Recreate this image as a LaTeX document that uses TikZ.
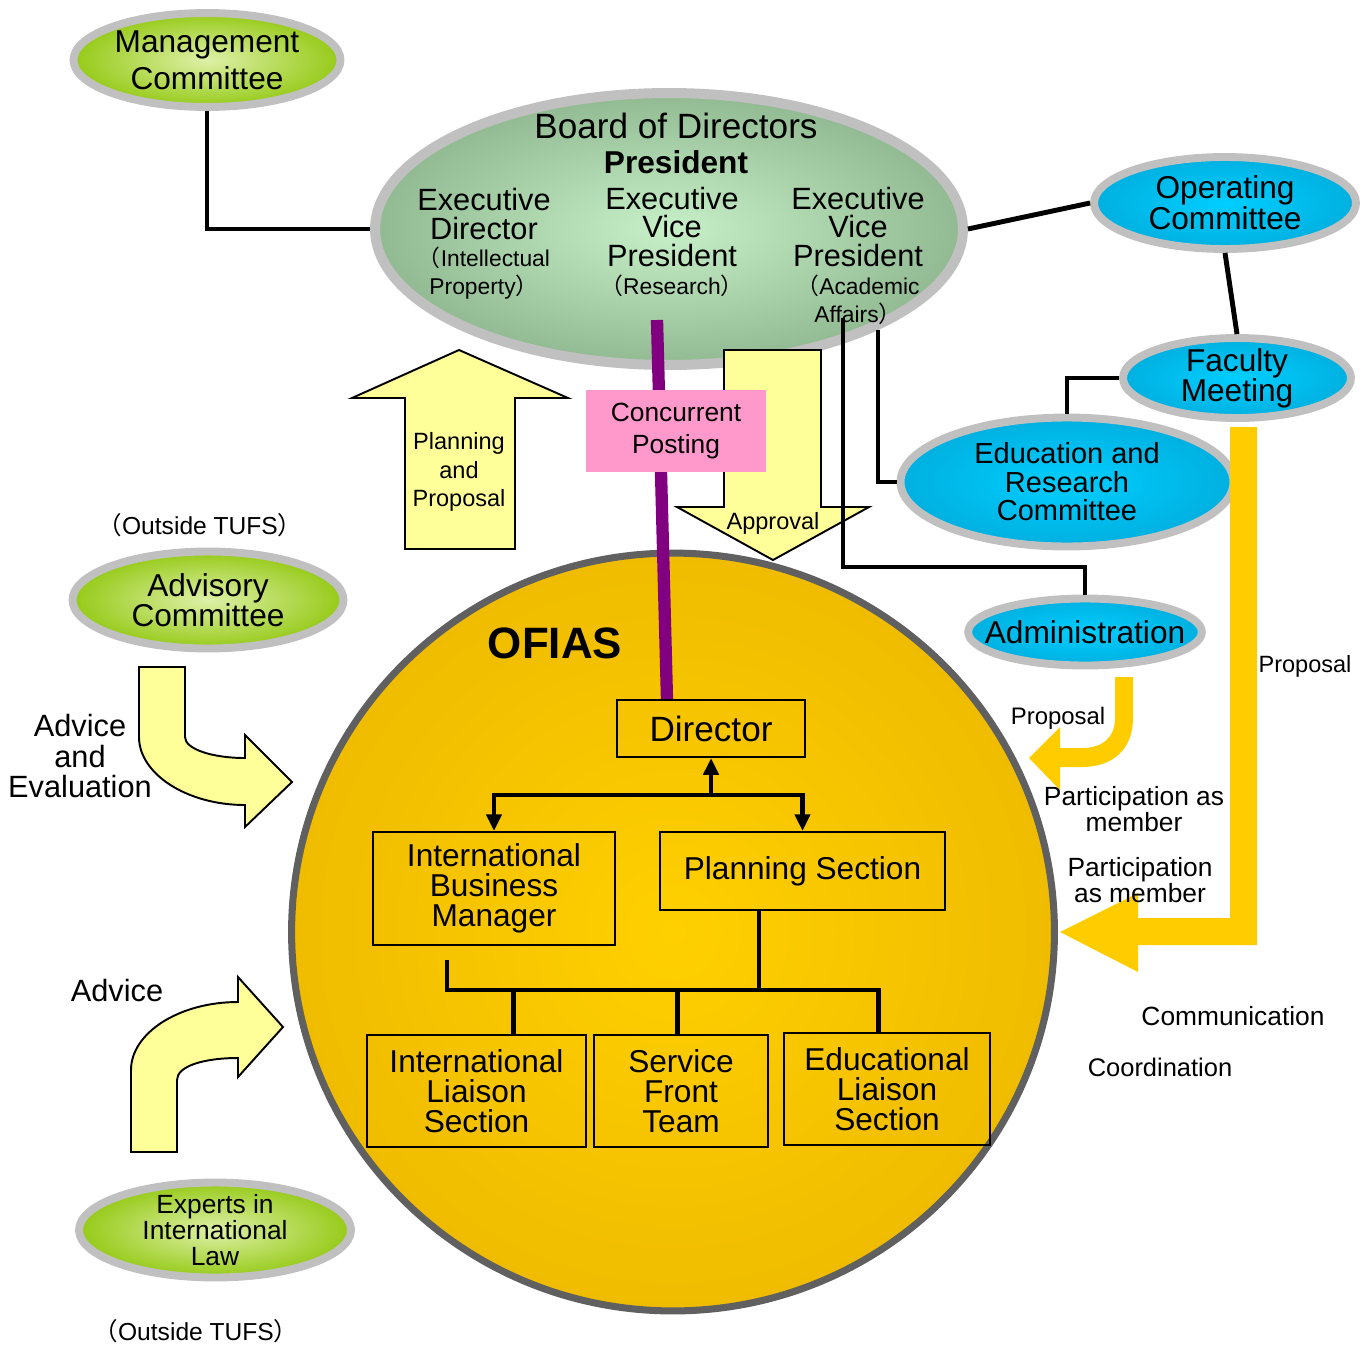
\documentclass[tikz,border=0pt]{standalone}
\usepackage{fontspec}
\setmainfont{Liberation Sans}
\newfontfamily\cjk{Noto Sans CJK JP}
\usetikzlibrary{positioning, arrows.meta, shapes.geometric}
\newcommand{\fsz}[2]{\fontsize{#1}{#2}\selectfont}
\newcommand{\lpar}{{\cjk （}}
\newcommand{\rpar}{{\cjk ）}}
\definecolor{ovalgray}{RGB}{192,192,192}
\definecolor{limein}{RGB}{222,240,168}
\definecolor{limeout}{RGB}{150,202,24}
\definecolor{sagein}{RGB}{200,240,200}
\definecolor{sageout}{RGB}{146,186,146}
\definecolor{skyin}{RGB}{0,206,255}
\definecolor{skyout}{RGB}{0,176,224}
\definecolor{goldin}{RGB}{255,208,0}
\definecolor{goldout}{RGB}{240,188,0}
\definecolor{paleyellow}{RGB}{255,255,153}
\definecolor{amber}{RGB}{255,204,0}
\definecolor{postingpink}{RGB}{255,153,204}
\definecolor{postingpurple}{RGB}{128,0,128}
\definecolor{rimgray}{RGB}{96,96,96}
\tikzset{
  oval/.style={ellipse, draw=ovalgray, line width=4.5pt, inner sep=-10pt, align=center},
  lime oval/.style={oval, inner color=limein, outer color=limeout},
  sky oval/.style={oval, inner color=skyin, outer color=skyout},
  unit box/.style={rectangle, draw, line width=1.2pt, inner sep=0pt, align=center, font=\fsz{18}{17}},
  wire/.style={line width=2.8pt},
  headed/.style={-{Triangle[length=9.5pt,width=8.5pt]}},
  block arrow/.style={fill=paleyellow, draw, line width=1.1pt},
  flow arrow/.style={fill=amber},
}

\begin{document}
\begin{tikzpicture}[x=0.02cm, y=-0.02cm]
  \useasboundingbox (0,0) rectangle (1371,1345);
  % Committees
  \node[lime oval, minimum width=5.34cm, minimum height=1.88cm, font=\fsz{18}{21}] (mgmt) at (207,60) {Management\\Committee};
  \node[oval, line width=5.7pt, inner color=sagein, outer color=sageout, minimum width=11.76cm, minimum height=5.44cm] (board) at (669,229) {};
  \node[sky oval, minimum width=5.24cm, minimum height=1.84cm, font=\fsz{18}{16.5}] (oper) at (1225,203) {Operating\\Committee};
  \node[sky oval, minimum width=4.56cm, minimum height=1.60cm, font=\fsz{18}{17}] (faculty) at (1237,378) {Faculty\\Meeting};
  \node[sky oval, minimum width=6.66cm, minimum height=2.58cm, font=\fsz{16.5}{16.2}] (edu) at (1067,482) {Education and\\Research\\Committee};
  \node[sky oval, minimum width=4.60cm, minimum height=1.34cm, font=\fsz{18}{18}] (admin) at (1085,632) {Administration};
  \node[lime oval, minimum width=5.42cm, minimum height=1.94cm, font=\fsz{18}{17}] (advisory) at (208,600) {Advisory\\Committee};
  \node[lime oval, minimum width=5.44cm, minimum height=1.90cm, font=\fsz{15}{14.7}] (experts) at (215,1230) {Experts in\\International\\Law};
  % Board members
  \node[font=\fsz{20}{20}] (boardname) at (676,126) {Board of Directors};
  \node[font=\bfseries\fsz{18}{20}] (president) at (676,162) {President};
  \node[font=\fsz{17.5}{16.5}, align=center] (evpIP) at (484,214) {Executive\\Director};
  \node[font=\fsz{13}{16}, align=center] (evpIPnote) at (484,273) {\lpar Intellectual\\Property\rpar};
  \node[font=\fsz{17.5}{16.5}, align=center] (evpRes) at (672,227) {Executive\\Vice\\President};
  \node[font=\fsz{13}{16}, align=center] (evpResnote) at (672,286) {\lpar Research\rpar};
  \node[font=\fsz{17.5}{16.5}, align=center] (evpAca) at (858,227) {Executive\\Vice\\President};
  \node[font=\fsz{13}{16}, align=center] (evpAcanote) at (858,300) {\lpar Academic\\Affairs\rpar};
  % OFIAS
  \node[ellipse, draw=rimgray, line width=4pt, inner sep=0pt, inner color=goldin, outer color=goldout, minimum width=15.26cm, minimum height=15.16cm] (ofias) at (673,932) {};
  \node[font=\bfseries\fsz{25}{30}] (ofiasname) at (555,643) {OFIAS};
  % Planning and approval arrows
  \draw[block arrow] (405,549) -- (405,398) -- (352,398) -- (459,350) -- (568,398) -- (515,398) -- (515,549) -- cycle;
  \node[font=\fsz{13.4}{16}, align=center] (planprop) at (459,472) {Planning\\and\\Proposal};
  \draw[block arrow] (724,350) -- (821,350) -- (821,507) -- (869,507) -- (773,560) -- (677,507) -- (724,507) -- cycle;
  \node[font=\fsz{13.4}{16}] (approval) at (773,523) {Approval};
  % Links
  \coordinate (affairsA) at (843,318);
  \coordinate (affairsB) at (878,330);
  \coordinate (adminTurn) at (843,567);
  \draw[wire] (mgmt.south) |- (board.west);
  \draw[wire] (board.east) -- (oper.west);
  \draw[wire] (oper.south) -- (faculty.north);
  \draw[wire] (faculty.west) -| (edu.north);
  \draw[wire] (affairsA) -- (adminTurn) -| (admin.north);
  \draw[wire] (affairsB) |- (edu.west);
  % Concurrent posting
  \coordinate (researchFoot) at (657,320);
  \draw[line width=7pt, postingpurple] (researchFoot) -- (667,700);
  \node[fill=postingpink, minimum width=3.6cm, minimum height=1.66cm, align=center, font=\fsz{15}{18}] (posting) at (676,431) {Concurrent\\Posting};
  % Proposal arrows
  \fill[flow arrow] (1230,427) -- (1257,427) -- (1257,945) -- (1138,945) -- (1138,972) -- (1060,932) -- (1138,893) -- (1138,918) -- (1230,918) -- cycle;
  \fill[flow arrow] (1115,677) -- (1133,677) -- (1133,718) .. controls (1133,750) and (1112,767) .. (1082,767) -- (1060,767) -- (1060,790) -- (1029,758) -- (1060,727) -- (1060,748) -- (1082,748) .. controls (1102,748) and (1115,738) .. (1115,718) -- cycle;
  \node[font=\fsz{13.4}{16}] (propFaculty) at (1305,666) {Proposal};
  \node[font=\fsz{13.6}{16}] (propAdmin) at (1058,718) {Proposal};
  \node[font=\fsz{15}{14.7}, align=center] (partA) at (1134,809) {Participation as\\member};
  \node[font=\fsz{15}{14.7}, align=center] (partB) at (1140,880) {Participation\\as member};
  \node[font=\fsz{15}{18}] (comm) at (1233,1016) {Communication};
  \node[font=\fsz{14.5}{18}] (coord) at (1160,1067) {Coordination};
  % Advice arrows
  \draw[block arrow] (139,667) -- (185,667) -- (185,737) .. controls (185,749) and (212,758) .. (245,758) -- (245,735) -- (292,782) -- (245,827) -- (245,805) .. controls (187,805) and (139,774) .. (139,737) -- cycle;
  \draw[block arrow] (131,1152) -- (131,1070) .. controls (131,1033) and (179,1002) .. (238,1002) -- (238,977) -- (283,1027) -- (238,1077) -- (238,1058) .. controls (204,1058) and (177,1066) .. (177,1080) -- (177,1152) -- cycle;
  \node[font=\fsz{17.5}{17.3}, align=center] (adviceEval) at (80,756) {Advice\\and\\Evaluation};
  \node[font=\fsz{17.5}{20}] (advice) at (117,990) {Advice};
  \node[font=\fsz{14}{18}] (outsideA) at (200,525) {\lpar Outside TUFS\rpar};
  \node[font=\fsz{14}{18}] (outsideB) at (196,1331) {\lpar Outside TUFS\rpar};
  % Sections
  \node[unit box, minimum width=3.76cm, minimum height=1.14cm, font=\fsz{20}{22}] (director) at (711,728.5) {Director};
  \node[unit box, minimum width=4.84cm, minimum height=2.26cm] (ibm) at (494,888.5) {International\\Business\\Manager};
  \node[unit box, minimum width=5.70cm, minimum height=1.56cm] (plan) at (802.5,871) {Planning Section};
  \node[unit box, minimum width=4.38cm, minimum height=2.24cm] (ils) at (476.5,1091) {International\\Liaison\\Section};
  \node[unit box, minimum width=3.48cm, minimum height=2.24cm] (sft) at (681,1091) {Service\\Front\\Team};
  \node[unit box, minimum width=4.12cm, minimum height=2.24cm] (els) at (887,1089) {Educational\\Liaison\\Section};
  \coordinate (split) at (711,795);
  \coordinate (bus) at (759,990);
  \coordinate (ibmStub) at (447,960);
  \draw[wire, headed] (split) -- (director.south);
  \draw[wire, headed] (split) -| (ibm.north);
  \draw[wire, headed] (split) -| (plan.north);
  \draw[wire] (plan.south -| bus) -- (bus);
  \draw[wire] (ibmStub) |- (bus) -| ([xshift=-5pt]els.north);
  \draw[wire] ([xshift=21pt]ils.north) -- ++(0,-45);
  \draw[wire] ([xshift=-2pt]sft.north) -- ++(0,-45);
\end{tikzpicture}
\end{document}
